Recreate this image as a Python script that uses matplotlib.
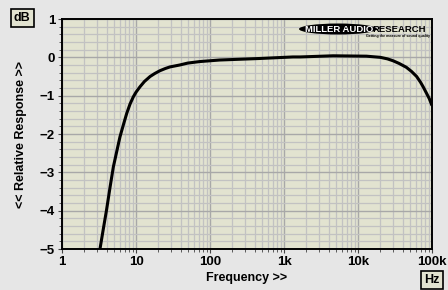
import matplotlib
matplotlib.use("Agg")
import matplotlib.pyplot as plt
from matplotlib.ticker import FixedLocator, NullFormatter, LogLocator
from matplotlib.patches import Ellipse
import numpy as np

freq_hz = [3.26, 3.6, 4.0, 4.45, 4.94, 5.5, 6.08, 6.8, 7.5, 8.3, 9.2, 10, 11.3, 13, 15.5,
           18, 21, 25, 28.8, 39, 50, 73, 135, 253, 471,
           1320, 1650, 4600, 13000, 20000, 25000, 29800, 36000, 45000, 53000, 62000,
           70000, 76000, 85000, 92000, 99000]
response_db = [-5.0, -4.5, -3.98, -3.4, -2.86, -2.45, -2.07, -1.74, -1.46, -1.22, -1.03, -0.91,
               -0.77, -0.63, -0.5, -0.42, -0.35, -0.29, -0.25, -0.2, -0.15, -0.11,
               -0.07, -0.05, -0.03, 0.01, 0.01, 0.04, 0.03, 0.0, -0.04, -0.09, -0.16,
               -0.26, -0.37, -0.5, -0.65, -0.77, -0.95, -1.08, -1.24]

x_ticks = [1, 10, 100, 1000, 10000, 100000]
x_tick_labels = ["1", "10", "100", "1k", "10k", "100k"]
y_ticks = [1, 0, -1, -2, -3, -4, -5]

plt.rcParams['font.family'] = ['Liberation Sans', 'DejaVu Sans']

fig = plt.figure(figsize=(4.48, 2.9), dpi=100, facecolor="#e6e6e6")
ax = fig.add_axes([62/448, 1-249/290, 370/448, 230/290])
ax.set_facecolor("#e2e3d0")
ax.set_xscale("log")
ax.set_xlim(1, 100000)
ax.set_ylim(-5, 1)

# grid
ax.xaxis.set_major_locator(FixedLocator(x_ticks))
ax.xaxis.set_minor_locator(LogLocator(base=10, subs=np.arange(2, 10), numticks=20))
ax.xaxis.set_minor_formatter(NullFormatter())
ax.set_xticklabels(x_tick_labels)
ax.yaxis.set_major_locator(FixedLocator(y_ticks))
ax.yaxis.set_minor_locator(FixedLocator(np.arange(-5, 1.01, 0.2)))
ax.grid(which="major", color="#a8a8a8", linewidth=1.0)
ax.grid(which="minor", color="#c2c2c2", linewidth=0.9)
ax.set_axisbelow(True)

ax.plot(freq_hz, response_db, color="black", linewidth=2.2, solid_capstyle="round",
        solid_joinstyle="round", zorder=3)

for s in ax.spines.values():
    s.set_color("black")
    s.set_linewidth(1.4)

ax.tick_params(which="both", direction="out", color="#444444")
ax.tick_params(which="major", length=3, width=0.8, labelsize=9.5, pad=2)
ax.tick_params(which="minor", length=2, width=0.6)
for lab in ax.get_xticklabels() + ax.get_yticklabels():
    lab.set_fontweight("bold")

ax.set_xlabel("Frequency >>", fontsize=9, fontweight="bold", labelpad=3)
ax.set_ylabel("<< Relative Response >>", fontsize=9, fontweight="bold", labelpad=9)

box = dict(boxstyle="square,pad=0.25", facecolor="#e2e3d0", edgecolor="black", linewidth=1.2)
fig.text(22/448, 1-18/290, "dB", fontsize=9, fontweight="bold", ha="center", va="center", bbox=box)
fig.text(432/448, 1-280/290, "Hz", fontsize=9, fontweight="bold", ha="center", va="center", bbox=box)

# logo
ell = Ellipse((338/448, 1-29/290), 78/448, 11/290, transform=fig.transFigure,
              facecolor="black", edgecolor="none", zorder=5)
fig.patches.append(ell)
fig.text(339/448, 1-29/290, "MILLER AUDIO", fontsize=6.8, fontweight="bold", color="white",
         ha="center", va="center", zorder=6)
fig.text(372/448, 1-29/290, "RESEARCH", fontsize=6.8, fontweight="bold", color="black",
         ha="left", va="center", zorder=6)
fig.text(430/448, 1-35.5/290, "Getting the measure of sound quality", fontsize=2.6,
         fontweight="bold", color="black", ha="right", va="center", zorder=6)

fig.savefig("out.png", dpi=100, facecolor=fig.get_facecolor())
